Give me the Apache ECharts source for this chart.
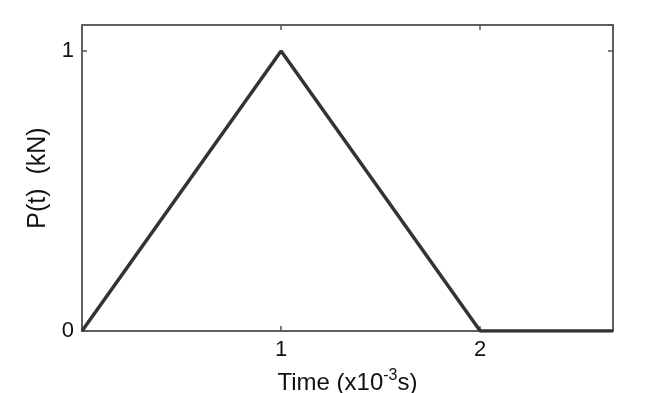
<!DOCTYPE html>
<html><head><meta charset="utf-8">
<script src="https://cdn.jsdelivr.net/npm/echarts@6/dist/echarts.min.js"></script>
<style>html,body{margin:0;padding:0;background:#fff}#c{width:662px;height:393px}</style>
</head><body><div id="c"></div>
<script>
const timeValues = [0, 1, 2, 2.667];
const forceValues = [0, 1, 0, 0];
const xTickLabels = ['', '1', '2'];
const yTickLabels = ['0', '1'];
const xName = 'Time (x10';
const yName = 'P(t)  (kN)';

const chart = echarts.init(document.getElementById('c'), null, {renderer: 'canvas'});
const font = 'Liberation Sans, Arial, sans-serif';
const axisCol = '#555';
function ax(extra) {
  return Object.assign({
    type: 'value', interval: 1,
    axisLine: {show: true, onZero: false, lineStyle: {color: axisCol, width: 1.5}},
    axisTick: {show: true, inside: true, length: 5, lineStyle: {color: axisCol, width: 1.5}},
    splitLine: {show: false}
  }, extra);
}
chart.setOption({
  animation: false,
  grid: {left: 82, right: 49, top: 25, bottom: 62, outerBoundsMode: 'none', containLabel: false,
    show: true, borderColor: axisCol, borderWidth: 1.5, backgroundColor: '#fff'},
  xAxis: [
    ax({
      min: 0, max: 2.667, position: 'bottom',
      axisLabel: {color: '#111', fontSize: 22, fontFamily: font, margin: 8,
        showMaxLabel: false,
        formatter: v => (Number.isInteger(v) && v < xTickLabels.length) ? xTickLabels[v] : ''},
      name: '{a|' + xName + '}{s|-3}{a|s)}', nameLocation: 'middle', nameGap: 37,
      nameTextStyle: {rich: {
        a: {fontSize: 24, fontFamily: font, color: '#111'},
        s: {fontSize: 16, fontFamily: font, color: '#111', verticalAlign: 'top', padding: [0, 0, 14, 0]}
      }}
    }),
    ax({min: 0, max: 2.667, position: 'top', axisLabel: {show: false}})
  ],
  yAxis: [
    ax({
      min: 0, max: 1.093, position: 'left',
      axisLabel: {color: '#111', fontSize: 22, fontFamily: font, margin: 8,
        showMaxLabel: false,
        formatter: v => (Number.isInteger(v) && v < yTickLabels.length) ? yTickLabels[v] : ''},
      name: yName, nameLocation: 'middle', nameGap: 25, nameRotate: 90,
      nameTextStyle: {fontSize: 25, fontFamily: font, color: '#111'}
    }),
    ax({min: 0, max: 1.093, position: 'right', axisLabel: {show: false}})
  ],
  series: [{
    type: 'line', xAxisIndex: 0, yAxisIndex: 0,
    data: timeValues.map((t, i) => [t, forceValues[i]]),
    showSymbol: false, symbol: 'none',
    lineStyle: {color: '#333', width: 3.5}
  }, {
    type: 'line', xAxisIndex: 1, yAxisIndex: 1, data: [], showSymbol: false
  }]
});
</script></body></html>
